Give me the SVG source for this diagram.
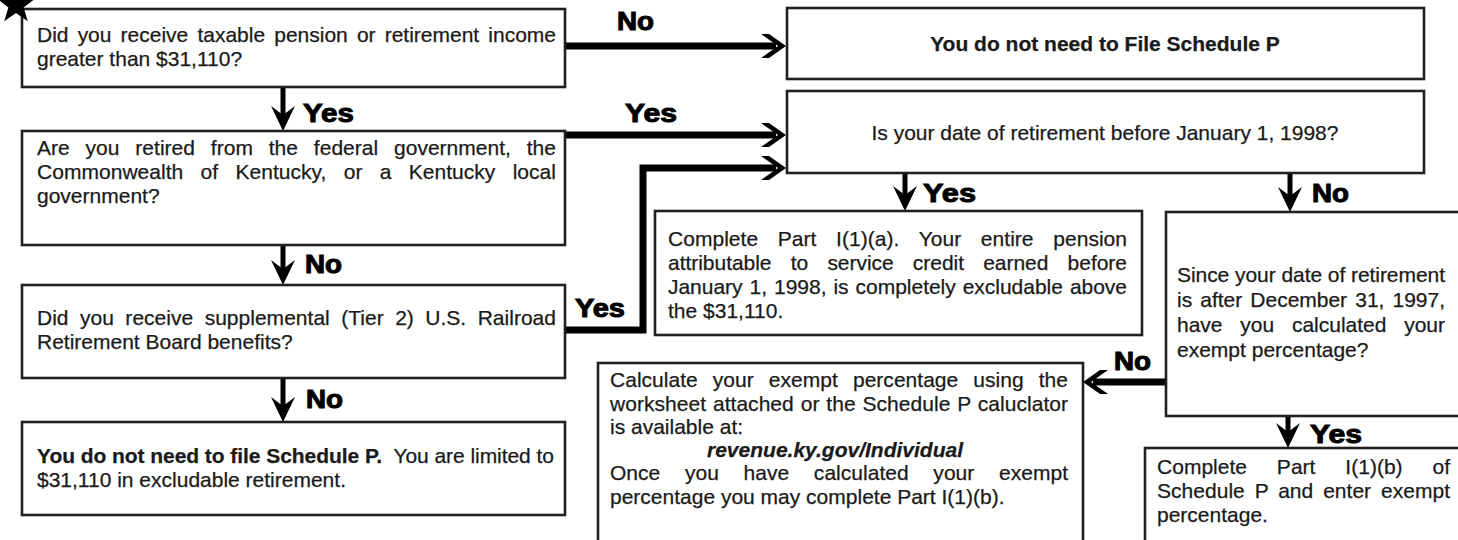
<svg xmlns="http://www.w3.org/2000/svg" xmlns:xlink="http://www.w3.org/1999/xlink" width="1458" height="540" viewBox="0 0 1458 540">
<defs>
<style>
.box{fill:#fff;stroke:#231f20;stroke-width:2.6}
.t{font-family:"Liberation Sans",Arial,sans-serif;font-size:21px;fill:#1a1a1a;stroke:#1a1a1a;stroke-width:0.25}
.b{font-weight:bold}
.bi{font-weight:bold;font-style:italic}
.lbl{font-family:"Liberation Sans",Arial,sans-serif;font-weight:bold;font-size:25px;fill:#000;stroke:#000;stroke-width:1}
.shaft{fill:none;stroke:#000;stroke-width:7;stroke-linejoin:miter}
.thin{fill:none;stroke:#000;stroke-width:5}
.head{fill:#000}
</style>
<path id="chev" d="M0,0 L-17,-12 L-25,-12 L-8,0 L-25,12 L-17,12 Z"/>
<path id="dhead" d="M0,0 L-12,-25 L0,-16 L12,-25 Z"/>
</defs>
<rect width="1458" height="540" fill="#fff"/>

<g id="connectors">
  <path class="shaft" d="M565,46 H776"/>
  <use href="#chev" class="head" transform="translate(786,46)"/>
  <path class="shaft" d="M565,135 H776"/>
  <use href="#chev" class="head" transform="translate(786,135)"/>
  <path class="shaft" d="M565,330 H643 V168 H776"/>
  <use href="#chev" class="head" transform="translate(786,168)"/>
  <path class="shaft" d="M1166,382 H1093"/>
  <use href="#chev" class="head" transform="translate(1083,382) rotate(180)"/>
  <path class="thin" d="M283,87 V118"/>
  <use href="#dhead" class="head" transform="translate(283,131)"/>
  <path class="thin" d="M283,245 V272"/>
  <use href="#dhead" class="head" transform="translate(283,285)"/>
  <path class="thin" d="M283,378 V409"/>
  <use href="#dhead" class="head" transform="translate(283,422)"/>
  <path class="thin" d="M905,173 V198"/>
  <use href="#dhead" class="head" transform="translate(905,211)"/>
  <path class="thin" d="M1290,173 V199"/>
  <use href="#dhead" class="head" transform="translate(1290,212)"/>
  <path class="thin" d="M1288,416 V435"/>
  <use href="#dhead" class="head" transform="translate(1288,448)"/>
  <text class="lbl" x="617" y="30" textLength="37" lengthAdjust="spacingAndGlyphs">No</text>
  <text class="lbl" x="625" y="122" textLength="52" lengthAdjust="spacingAndGlyphs">Yes</text>
  <text class="lbl" x="303" y="122" textLength="51" lengthAdjust="spacingAndGlyphs">Yes</text>
  <text class="lbl" x="305" y="273" textLength="37" lengthAdjust="spacingAndGlyphs">No</text>
  <text class="lbl" x="575" y="317" textLength="50" lengthAdjust="spacingAndGlyphs">Yes</text>
  <text class="lbl" x="306" y="408" textLength="37" lengthAdjust="spacingAndGlyphs">No</text>
  <text class="lbl" x="923" y="202" textLength="53" lengthAdjust="spacingAndGlyphs">Yes</text>
  <text class="lbl" x="1312" y="202" textLength="37" lengthAdjust="spacingAndGlyphs">No</text>
  <text class="lbl" x="1114" y="370" textLength="37" lengthAdjust="spacingAndGlyphs">No</text>
  <text class="lbl" x="1310" y="443" textLength="52" lengthAdjust="spacingAndGlyphs">Yes</text>
</g>

<g id="q1">
  <rect class="box" x="22" y="9" width="543" height="78"/>
  <text class="t" x="37" y="42" textLength="519" lengthAdjust="spacing" word-spacing="3.3">Did you receive taxable pension or retirement income</text>
  <text class="t" x="37" y="66">greater than $31,110?</text>
</g>
<g id="start-star">
  <polygon fill="#000" points="16,-15 20.7,-1.5 35,-1.2 23.6,7.5 27.8,21.2 16,13 4.2,21.2 8.4,7.5 -3,-1.2 11.3,-1.5"/>
</g>

<g id="q2">
  <rect class="box" x="22" y="131" width="543" height="114"/>
  <text class="t" x="37" y="155" textLength="519" lengthAdjust="spacing" word-spacing="10">Are you retired from the federal government, the</text>
  <text class="t" x="37" y="179" textLength="519" lengthAdjust="spacing" word-spacing="11.4">Commonwealth of Kentucky, or a Kentucky local</text>
  <text class="t" x="37" y="203">government?</text>
</g>

<g id="q3">
  <rect class="box" x="22" y="285" width="543" height="93"/>
  <text class="t" x="37" y="325" textLength="519" lengthAdjust="spacing" word-spacing="5.6">Did you receive supplemental (Tier 2) U.S. Railroad</text>
  <text class="t" x="37" y="349">Retirement Board benefits?</text>
</g>

<g id="end-limited">
  <rect class="box" x="22" y="422" width="543" height="93"/>
  <text class="t" x="37" y="463" textLength="517" lengthAdjust="spacing"><tspan class="b">You do not need to file Schedule P.</tspan><tspan dx="6"> You are limited to</tspan></text>
  <text class="t" x="37" y="487">$31,110 in excludable retirement.</text>
</g>

<g id="end-no-file">
  <rect class="box" x="787" y="8" width="637" height="71"/>
  <text class="t b" x="1105" y="51" text-anchor="middle">You do not need to File Schedule P</text>
</g>

<g id="q-date">
  <rect class="box" x="787" y="91" width="637" height="82"/>
  <text class="t" x="1105" y="140" text-anchor="middle">Is your date of retirement before January 1, 1998?</text>
</g>

<g id="part-a">
  <rect class="box" x="655" y="211" width="487" height="124"/>
  <text class="t" x="668" y="246" textLength="459" lengthAdjust="spacing" word-spacing="13.8">Complete Part I(1)(a). Your entire pension</text>
  <text class="t" x="668" y="270" textLength="459" lengthAdjust="spacing" word-spacing="13.4">attributable to service credit earned before</text>
  <text class="t" x="668" y="294" textLength="459" lengthAdjust="spacing" word-spacing="1.2">January 1, 1998, is completely excludable above</text>
  <text class="t" x="668" y="318">the $31,110.</text>
</g>

<g id="q-exempt">
  <rect class="box" x="1166" y="212" width="300" height="204"/>
  <text class="t" x="1177" y="282" textLength="268" lengthAdjust="spacing">Since your date of retirement</text>
  <text class="t" x="1177" y="307" textLength="268" lengthAdjust="spacing" word-spacing="2.3">is after December 31, 1997,</text>
  <text class="t" x="1177" y="332" textLength="268" lengthAdjust="spacing" word-spacing="12">have you calculated your</text>
  <text class="t" x="1177" y="357">exempt percentage?</text>
</g>

<g id="calculate">
  <rect class="box" x="598" y="363" width="485" height="185"/>
  <text class="t" x="610" y="387" textLength="458" lengthAdjust="spacing" word-spacing="9.2">Calculate your exempt percentage using the</text>
  <text class="t" x="610" y="411" textLength="458" lengthAdjust="spacing" word-spacing="1">worksheet attached or the Schedule P caluclator</text>
  <text class="t" x="610" y="434">is available at:</text>
  <text class="t bi" x="835" y="457" text-anchor="middle">revenue.ky.gov/Individual</text>
  <text class="t" x="610" y="480" textLength="458" lengthAdjust="spacing" word-spacing="18.8">Once you have calculated your exempt</text>
  <text class="t" x="610" y="504">percentage you may complete Part I(1)(b).</text>
</g>

<g id="part-b">
  <rect class="box" x="1145" y="448" width="320" height="100"/>
  <text class="t" x="1157" y="474" textLength="293" lengthAdjust="spacing" word-spacing="24">Complete Part I(1)(b) of</text>
  <text class="t" x="1157" y="498" textLength="293" lengthAdjust="spacing" word-spacing="4">Schedule P and enter exempt</text>
  <text class="t" x="1157" y="522">percentage.</text>
</g>
</svg>
